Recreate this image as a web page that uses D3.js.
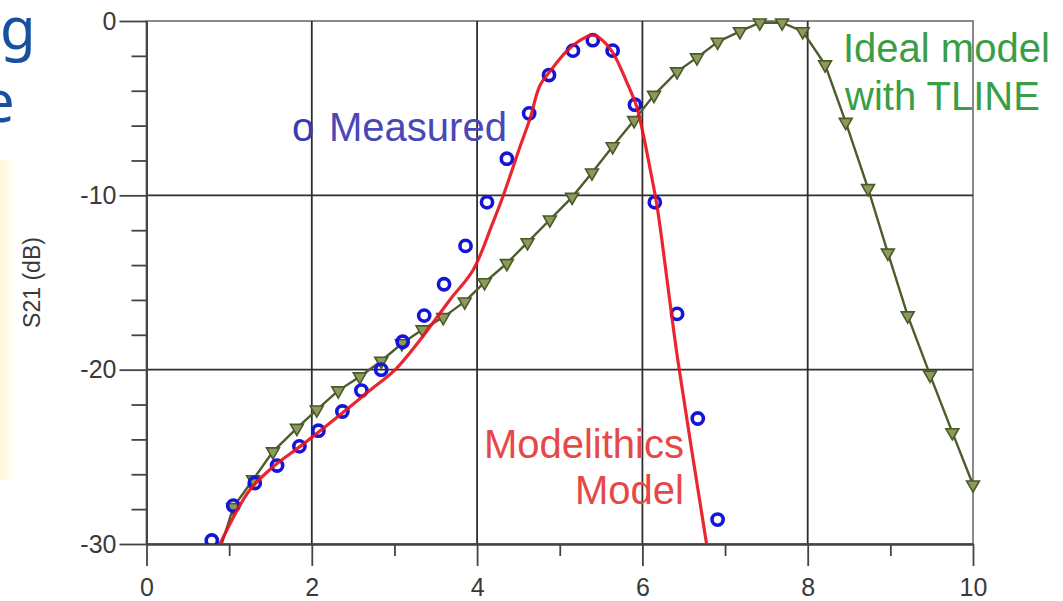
<!DOCTYPE html>
<html>
<head>
<meta charset="utf-8">
<script src="https://cdn.jsdelivr.net/npm/d3@7"></script>
<style>
  html, body { margin: 0; padding: 0; background: #ffffff; }
  svg { display: block; }
</style>
</head>
<body>
<svg id="chart" width="1063" height="601"></svg>
<script>
// ---- data -------------------------------------------------------------
// Measured S21 (circles)
const measuredFreq = [0.79, 1.05, 1.31, 1.58, 1.85, 2.08, 2.37, 2.60, 2.84, 3.10, 3.36, 3.60, 3.86,
                      4.12, 4.36, 4.63, 4.87, 5.16, 5.40, 5.64, 5.91, 6.15, 6.42, 6.67, 6.91];
const measuredDb   = [-29.8, -27.8, -26.5, -25.5, -24.4, -23.5, -22.4, -21.2, -20.0, -18.4, -16.9, -15.1, -12.9,
                      -10.4, -7.9, -5.3, -3.1, -1.7, -1.1, -1.7, -4.8, -10.4, -16.8, -22.8, -28.6];

// Modelithics model (solid red curve)
const modelFreq = [0.89, 1.07, 1.25, 1.55, 1.86, 2.34, 2.70, 3.01, 3.31, 3.67, 3.95, 4.18, 4.31, 4.52,
                   4.64, 4.76, 4.88, 5.09, 5.25, 5.40, 5.49, 5.64, 5.81, 5.93, 6.01, 6.09, 6.18, 6.33, 6.43, 6.78];
const modelDb   = [-30.0, -28.3, -26.9, -25.5, -24.4, -22.6, -21.2, -20.0, -18.3, -16.0, -14.3, -11.7, -10.1, -7.2,
                   -5.6, -3.7, -2.9, -1.7, -1.1, -0.8, -1.0, -1.8, -3.5, -4.9, -6.5, -8.4, -10.7, -16.0, -19.5, -30.1];

// Ideal model with TLINE (olive line with triangles)
const idealFreq = [0.91, 1.05, 1.29, 1.53, 1.82, 2.06, 2.32, 2.58, 2.84, 3.09, 3.34, 3.59, 3.85, 4.09, 4.36,
                   4.61, 4.88, 5.15, 5.39, 5.64, 5.90, 6.14, 6.42, 6.66, 6.91, 7.18, 7.42, 7.69, 7.94,
                   8.21, 8.46, 8.73, 8.97, 9.21, 9.48, 9.75, 10.0];
const idealDb   = [-30.0, -27.9, -26.3, -24.7, -23.35, -22.3, -21.2, -20.4, -19.5, -18.5, -17.7, -17.0, -16.1, -15.0, -13.9,
                   -12.7, -11.4, -10.1, -8.7, -7.2, -5.7, -4.25, -2.9, -2.1, -1.2, -0.6, -0.1, -0.1, -0.6,
                   -2.5, -5.8, -9.6, -13.3, -16.9, -20.3, -23.6, -26.6];

// Axis ticks
const xMajorTicks = [0, 2, 4, 6, 8, 10];
const xMinorTicks = [1, 3, 5, 7, 9];
const yMajorTicks = [0, -10, -20, -30];
const yMinorTicks = [-2, -4, -6, -8, -12, -14, -16, -18, -22, -24, -26, -28];

// ---- layout -----------------------------------------------------------
const svg = d3.select("#chart");
const FONT = "'Liberation Sans', Arial, Helvetica, sans-serif";

const x = d3.scaleLinear().domain([0, 10]).range([146.5, 973]);
const y = d3.scaleLinear().domain([-30, 0]).range([544, 21]);

// slide fragments at the left edge
const fade = svg.append("defs").append("linearGradient").attr("id", "side-fade")
  .attr("x1", 0).attr("x2", 1).attr("y1", 0).attr("y2", 0);
fade.append("stop").attr("offset", 0).attr("stop-color", "#fff4c8").attr("stop-opacity", 0.7);
fade.append("stop").attr("offset", 1).attr("stop-color", "#fff4c8").attr("stop-opacity", 0);
svg.append("rect").attr("x", 0).attr("y", 160).attr("width", 16).attr("height", 320)
  .attr("fill", "url(#side-fade)");
svg.append("text").attr("x", 0).attr("y", 49).text("g")
  .attr("font-family", "'Noto Sans', 'Open Sans', sans-serif").attr("font-size", 58).attr("fill", "#16509f");
svg.append("text").attr("x", -18).attr("y", 122).text("e")
  .attr("font-family", "'Noto Sans', 'Open Sans', sans-serif").attr("font-size", 58).attr("fill", "#16509f");

// y axis title
svg.append("text")
  .attr("transform", `translate(40,${(y(0) + y(-30)) / 2}) rotate(-90)`)
  .attr("text-anchor", "middle")
  .attr("font-family", FONT).attr("font-size", 23).attr("fill", "#3a3a3a")
  .text("S21 (dB)");

// plot frame
svg.append("rect")
  .attr("x", x(0)).attr("y", y(0)).attr("width", x(10) - x(0)).attr("height", y(-30) - y(0))
  .attr("fill", "none").attr("stroke", "#8a8a8a").attr("stroke-width", 2);

// grid
const grid = svg.append("g").attr("stroke", "#2e2e2e").attr("stroke-width", 1.8);
grid.selectAll(".gx").data(xMajorTicks.filter(d => d > 0 && d < 10)).join("line")
  .attr("x1", d => x(d)).attr("x2", d => x(d)).attr("y1", y(0)).attr("y2", y(-30));
grid.selectAll(".gy").data(yMajorTicks.filter(d => d < 0 && d > -30)).join("line")
  .attr("x1", x(0)).attr("x2", x(10)).attr("y1", d => y(d)).attr("y2", d => y(d));

// axes
function styleAxis(g) {
  g.select(".domain").attr("stroke", "#444").attr("stroke-width", 2);
  g.selectAll(".tick line").attr("stroke", "#444").attr("stroke-width", 1.8);
  g.selectAll("text").attr("font-family", FONT).attr("font-size", 25).attr("fill", "#3a3a3a");
}
svg.append("g").attr("transform", `translate(${x(0)},0)`)
  .call(d3.axisLeft(y).tickValues(yMinorTicks).tickSize(15).tickSizeOuter(0).tickFormat(""))
  .call(styleAxis);
svg.append("g").attr("transform", `translate(${x(0)},0)`)
  .call(d3.axisLeft(y).tickValues(yMajorTicks).tickSize(27).tickSizeOuter(0).tickPadding(3).tickFormat(d3.format("d")))
  .call(styleAxis)
  .call(g => g.selectAll("text").text(d => d < 0 ? "-" + Math.abs(d) : d));
svg.append("g").attr("transform", `translate(0,${y(-30)})`)
  .call(d3.axisBottom(x).tickValues(xMinorTicks).tickSize(12).tickSizeOuter(0).tickFormat(""))
  .call(styleAxis);
svg.append("g").attr("transform", `translate(0,${y(-30)})`)
  .call(d3.axisBottom(x).tickValues(xMajorTicks).tickSize(22).tickSizeOuter(0).tickPadding(12).tickFormat(d3.format("d")))
  .call(styleAxis);

// clip to plot area
svg.append("clipPath").attr("id", "plot-clip").append("rect")
  .attr("x", x(0)).attr("y", y(0) - 8).attr("width", x(10) - x(0) + 12).attr("height", y(-30) - y(0) + 8);

const plot = svg.append("g").attr("clip-path", "url(#plot-clip)");

// ideal model line + triangles
const ideal = idealFreq.map((f, i) => ({ f, v: idealDb[i] }));
plot.append("path").datum(ideal)
  .attr("fill", "none").attr("stroke", "#4d5c2c").attr("stroke-width", 2.4)
  .attr("d", d3.line().x(d => x(d.f)).y(d => y(d.v)));
plot.selectAll(".tri").data(ideal.filter(d => d.v > -29.9)).join("path")
  .attr("transform", d => `translate(${x(d.f)},${y(d.v)}) rotate(180)`)
  .attr("d", d3.symbol(d3.symbolTriangle, 72))
  .attr("fill", "#8c9a5c").attr("stroke", "#4a5928").attr("stroke-width", 1.6);

// measured circles
const measured = measuredFreq.map((f, i) => ({ f, v: measuredDb[i] }));
plot.selectAll(".meas").data(measured).join("circle")
  .attr("cx", d => x(d.f)).attr("cy", d => y(d.v)).attr("r", 5.6)
  .attr("fill", "none").attr("stroke", "#1515d8").attr("stroke-width", 3.6);

// Modelithics model curve
const model = modelFreq.map((f, i) => ({ f, v: modelDb[i] }));
plot.append("path").datum(model)
  .attr("fill", "none").attr("stroke", "#e8141e").attr("stroke-width", 3.2).attr("opacity", 0.92)
  .attr("d", d3.line().curve(d3.curveCatmullRom.alpha(0.5)).x(d => x(d.f)).y(d => y(d.v)));

// annotations
const notes = svg.append("g").attr("font-family", FONT).attr("font-size", 40);
notes.append("text").attr("x", 292).attr("y", 141).attr("fill", "#3a3ab4").text("o");
notes.append("text").attr("x", 329).attr("y", 141).attr("fill", "#4848b8").text("Measured");
notes.append("text").attr("x", 684).attr("y", 458).attr("text-anchor", "end").attr("fill", "#e64848").text("Modelithics");
notes.append("text").attr("x", 684).attr("y", 504).attr("text-anchor", "end").attr("fill", "#e64848").text("Model");
notes.append("text").attr("x", 843).attr("y", 62).attr("fill", "#3a9e46").text("Ideal model");
notes.append("text").attr("x", 845).attr("y", 110).attr("fill", "#3a9e46").text("with TLINE");
</script>
</body>
</html>
